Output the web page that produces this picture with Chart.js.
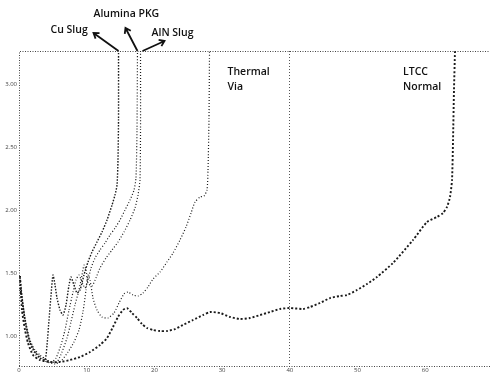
<!DOCTYPE html>
<html>
<head>
<meta charset="utf-8">
<script src="https://cdn.jsdelivr.net/npm/chart.js@4.4.1/dist/chart.umd.min.js"></script>
<style>
  body { margin: 0; background: #fff; }
  #wrap { width: 491px; height: 376px; position: relative; }
</style>
</head>
<body>
<div id="wrap"><canvas id="myChart"></canvas></div>
<script>
// axis ticks (labels are barely legible in the scan)
const xTicks = [0, 1, 2, 3, 4, 5, 6];
const xTickLabels = ['0', '10', '20', '30', '40', '50', '60'];
const yTicks = [0, 1, 2, 3, 4];
const yTickLabels = ['1.00', '1.50', '2.00', '2.50', '3.00'];
const markerX = 4;

// series
const cuSlugX = [0.015, 0.059, 0.103, 0.162, 0.236, 0.310, 0.384, 0.414, 0.443, 0.473, 0.502, 0.532, 0.561, 0.606, 0.650, 0.694, 0.739, 0.768, 0.812, 0.857, 0.901, 0.960, 1.019, 1.078, 1.152, 1.226, 1.300, 1.374, 1.418, 1.448, 1.462, 1.470, 1.470];
const cuSlugY = [0.921, 0.492, 0.175, -0.095, -0.254, -0.349, -0.381, -0.143, 0.254, 0.651, 0.968, 0.810, 0.603, 0.413, 0.333, 0.492, 0.810, 0.937, 0.810, 0.683, 0.730, 0.968, 1.175, 1.333, 1.492, 1.651, 1.841, 2.079, 2.238, 2.397, 2.794, 3.43, 4.52];

const aluminaX = [0.015, 0.089, 0.162, 0.236, 0.310, 0.414, 0.487, 0.547, 0.620, 0.679, 0.739, 0.798, 0.842, 0.886, 0.931, 0.975, 1.019, 1.064, 1.123, 1.196, 1.270, 1.344, 1.418, 1.492, 1.566, 1.640, 1.699, 1.728, 1.743, 1.750];
const aluminaY = [0.857, 0.286, -0.063, -0.222, -0.302, -0.381, -0.413, -0.349, -0.143, 0.095, 0.413, 0.698, 0.889, 0.968, 0.857, 0.762, 0.889, 1.079, 1.238, 1.365, 1.476, 1.603, 1.714, 1.841, 2.0, 2.159, 2.317, 2.508, 3.27, 4.52];

const alnSlugX = [0.015, 0.089, 0.162, 0.251, 0.340, 0.458, 0.561, 0.635, 0.709, 0.768, 0.827, 0.886, 0.931, 0.960, 0.990, 1.019, 1.078, 1.137, 1.196, 1.285, 1.374, 1.462, 1.551, 1.640, 1.713, 1.758, 1.787, 1.795, 1.795];
const alnSlugY = [0.810, 0.254, -0.095, -0.270, -0.349, -0.413, -0.413, -0.254, -0.032, 0.222, 0.492, 0.730, 0.968, 1.127, 1.048, 0.841, 0.794, 0.921, 1.079, 1.238, 1.365, 1.492, 1.651, 1.841, 2.032, 2.238, 2.476, 3.27, 4.52];

const thermalViaX = [0.015, 0.089, 0.162, 0.251, 0.384, 0.532, 0.635, 0.724, 0.812, 0.886, 0.945, 0.990, 1.019, 1.049, 1.093, 1.152, 1.226, 1.315, 1.403, 1.477, 1.551, 1.610, 1.684, 1.758, 1.832, 1.905, 1.979, 2.083, 2.186, 2.275, 2.378, 2.467, 2.541, 2.600, 2.674, 2.733, 2.777, 2.792, 2.806, 2.814];
const thermalViaY = [0.762, 0.222, -0.127, -0.302, -0.397, -0.444, -0.381, -0.254, -0.095, 0.095, 0.381, 0.730, 0.968, 0.889, 0.603, 0.413, 0.302, 0.286, 0.365, 0.524, 0.667, 0.698, 0.651, 0.635, 0.683, 0.778, 0.905, 1.016, 1.175, 1.317, 1.524, 1.730, 1.952, 2.127, 2.206, 2.222, 2.317, 2.635, 3.43, 4.52];

const ltccX = [0.015, 0.044, 0.089, 0.133, 0.207, 0.310, 0.458, 0.606, 0.753, 0.901, 1.049, 1.196, 1.300, 1.388, 1.462, 1.536, 1.595, 1.669, 1.743, 1.817, 1.891, 1.979, 2.083, 2.186, 2.304, 2.422, 2.570, 2.718, 2.821, 2.969, 3.117, 3.264, 3.412, 3.560, 3.708, 3.855, 4.003, 4.195, 4.298, 4.446, 4.594, 4.742, 4.845, 4.993, 5.140, 5.288, 5.524, 5.820, 6.027, 6.174, 6.263, 6.322, 6.366, 6.396, 6.411, 6.425, 6.440];
const ltccY = [0.952, 0.413, 0.095, -0.111, -0.302, -0.381, -0.413, -0.413, -0.381, -0.333, -0.254, -0.143, -0.032, 0.143, 0.302, 0.413, 0.444, 0.365, 0.286, 0.190, 0.127, 0.095, 0.079, 0.079, 0.111, 0.175, 0.254, 0.333, 0.381, 0.365, 0.302, 0.270, 0.286, 0.333, 0.381, 0.429, 0.444, 0.429, 0.460, 0.524, 0.603, 0.635, 0.651, 0.730, 0.825, 0.937, 1.159, 1.524, 1.810, 1.889, 1.952, 2.048, 2.206, 2.476, 3.111, 3.905, 4.52];

function pts(xs, ys) {
  return xs.map((x, i) => ({ x: x, y: ys[i] }));
}

function series(label, xs, ys, width, dash) {
  return {
    label: label,
    data: pts(xs, ys),
    borderColor: '#1a1a1a',
    borderWidth: width,
    borderDash: dash,
    pointRadius: 0,
    tension: 0.2,
    fill: false
  };
}

// dotted frame: left, top and bottom
const framePlugin = {
  id: 'frame',
  beforeDatasetsDraw(chart) {
    const { ctx, chartArea: a } = chart;
    ctx.save();
    ctx.strokeStyle = '#444';
    ctx.lineWidth = 1;
    ctx.setLineDash([1, 1.5]);
    ctx.beginPath();
    ctx.moveTo(a.left + 0.5, a.bottom);
    ctx.lineTo(a.left + 0.5, a.top + 0.5);
    ctx.lineTo(a.right, a.top + 0.5);
    ctx.moveTo(a.left, a.bottom + 0.5);
    ctx.lineTo(a.right, a.bottom + 0.5);
    ctx.stroke();
    ctx.restore();
  }
};

function arrow(ctx, x1, y1, x2, y2) {
  const ang = Math.atan2(y2 - y1, x2 - x1);
  ctx.beginPath();
  ctx.moveTo(x1, y1);
  ctx.lineTo(x2, y2);
  ctx.moveTo(x2 - 6 * Math.cos(ang - 0.6), y2 - 6 * Math.sin(ang - 0.6));
  ctx.lineTo(x2, y2);
  ctx.lineTo(x2 - 6 * Math.cos(ang + 0.6), y2 - 6 * Math.sin(ang + 0.6));
  ctx.stroke();
}

const notesPlugin = {
  id: 'notes',
  afterDraw(chart) {
    const { ctx, chartArea: a, scales: { x } } = chart;
    const cuX = x.getPixelForValue(cuSlugX[cuSlugX.length - 1]);
    const alX = x.getPixelForValue(aluminaX[aluminaX.length - 1]);
    const anX = x.getPixelForValue(alnSlugX[alnSlugX.length - 1]);
    const tvX = x.getPixelForValue(thermalViaX[thermalViaX.length - 1]);
    const ltX = x.getPixelForValue(ltccX[ltccX.length - 1]);
    ctx.save();
    ctx.fillStyle = '#111';
    ctx.strokeStyle = '#111';
    ctx.lineWidth = 1.8;
    ctx.font = '600 10.5px "Open Sans"';
    ctx.textBaseline = 'alphabetic';
    ctx.textAlign = 'left';
    ctx.fillText('Cu Slug', cuX - 68, 33);
    ctx.fillText('Alumina PKG', alX - 44, 17);
    ctx.fillText('AlN Slug', anX + 11, 36);
    ctx.fillText('Thermal', tvX + 18, 75);
    ctx.fillText('Via', tvX + 18, 90);
    ctx.fillText('LTCC', ltX - 52, 75);
    ctx.fillText('Normal', ltX - 52, 90);
    arrow(ctx, cuX, a.top, cuX - 25, a.top - 18);
    arrow(ctx, alX, a.top, alX - 12, a.top - 23);
    arrow(ctx, anX + 2, a.top, anX + 24, a.top - 10);
    ctx.restore();
  }
};

const ctx = document.getElementById('myChart');

new Chart(ctx, {
  type: 'line',
  data: {
    datasets: [
      series('Cu Slug', cuSlugX, cuSlugY, 1.4, [1.5, 1.5]),
      series('Alumina PKG', aluminaX, aluminaY, 1.2, [1, 2]),
      series('AlN Slug', alnSlugX, alnSlugY, 1.2, [1, 2]),
      series('Thermal Via', thermalViaX, thermalViaY, 1.2, [1, 2]),
      series('LTCC Normal', ltccX, ltccY, 1.9, [2, 2])
    ]
  },
  options: {
    responsive: true,
    maintainAspectRatio: false,
    animation: false,
    layout: { padding: { top: 51, right: 1, left: 0, bottom: 0 } },
    plugins: {
      legend: { display: false },
      tooltip: { enabled: false }
    },
    scales: {
      x: {
        type: 'linear',
        min: 0,
        max: 6.957,
        afterBuildTicks: s => { s.ticks = xTicks.map(v => ({ value: v })); },
        afterFit: s => { s.height = 10; },
        ticks: {
          callback: (v) => xTickLabels[xTicks.indexOf(v)],
          font: { size: 6, family: 'Open Sans' },
          color: '#444',
          padding: 1,
          maxRotation: 0,
          autoSkip: false
        },
        grid: {
          drawTicks: false,
          color: c => (c.tick && c.tick.value === markerX) ? '#555' : 'rgba(0,0,0,0)',
          lineWidth: 1
        },
        border: { display: false, dash: [1, 2] }
      },
      y: {
        type: 'linear',
        min: -0.476,
        max: 4.524,
        afterBuildTicks: s => { s.ticks = yTicks.map(v => ({ value: v })); },
        afterFit: s => { s.width = 19; },
        ticks: {
          callback: (v) => yTickLabels[yTicks.indexOf(v)],
          font: { size: 6, family: 'Open Sans' },
          color: '#444',
          padding: 2
        },
        grid: { display: false, drawTicks: false },
        border: { display: false }
      }
    }
  },
  plugins: [framePlugin, notesPlugin]
});
</script>
</body>
</html>
